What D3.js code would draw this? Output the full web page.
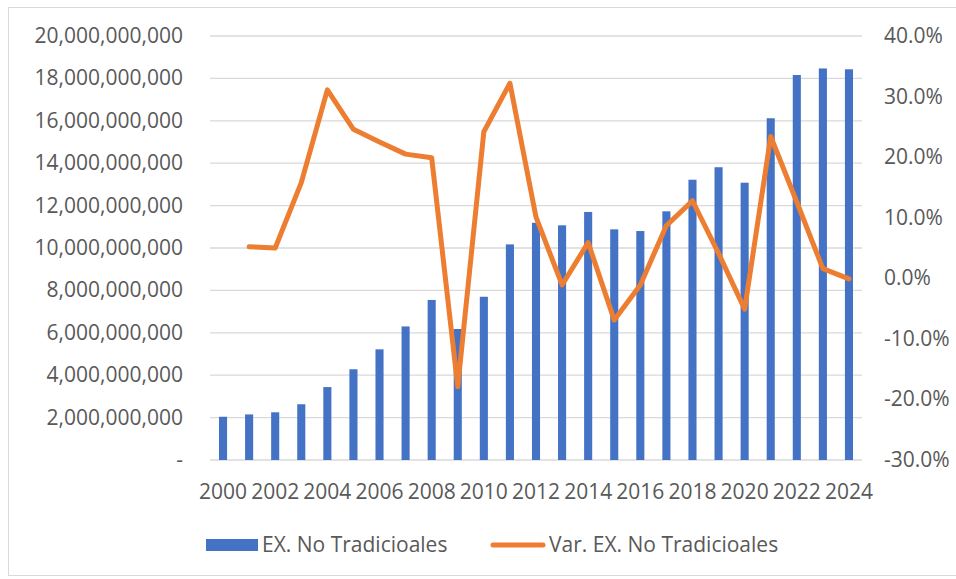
<!DOCTYPE html>
<html>
<head>
<meta charset="utf-8">
<script src="https://cdn.jsdelivr.net/npm/d3@7/dist/d3.min.js"></script>
<style>
body { margin: 0; background: #fff; }
text { font-family: "Open Sans", Calibri, sans-serif; fill: #595959; }
</style>
</head>
<body>
<div id="chart"></div>
<script>
var years = d3.range(2000, 2025)
var exportValues = [2.04e9, 2.15e9, 2.25e9, 2.63e9, 3.44e9, 4.28e9, 5.22e9, 6.30e9, 7.55e9, 6.18e9,
    7.70e9, 10.17e9, 11.19e9, 11.07e9, 11.70e9, 10.88e9, 10.80e9, 11.73e9, 13.22e9, 13.81e9,
    13.08e9, 16.12e9, 18.16e9, 18.47e9, 18.43e9]
// variation starts in 2001
var growth = [null, 5.2, 5.0, 15.8, 31.1, 24.6, 22.5, 20.5, 19.9, -17.9,
    24.2, 32.2, 10.1, -1.1, 5.9, -6.9, -1.1, 8.7, 12.8, 4.1,
    -5.1, 23.4, 12.6, 1.6, -0.1]
var leftTicks = d3.range(0, 20e9 + 1, 2e9)
var rightTicks = [-30, -20, -10, 0, 10, 20, 30, 40]
var yearLabels = years.filter(function(d){ return d % 2 == 0 })

var width = 956, height = 579
var plotLeft = 210, plotRight = 862, plotTop = 36, plotBottom = 460
var fs = 21

var svg = d3.select("#chart").append("svg")
    .attr('width', width).attr('height', height)

svg.append("rect").attr("x", 8.5).attr("y", 7.5)
    .attr("width", 960).attr("height", 568)
    .attr("fill", "none").attr("stroke", "#d9d9d9")

var x = d3.scaleBand().domain(years).range([plotLeft, plotRight]).paddingInner(0.69).paddingOuter(0.345)
var y = d3.scaleLinear().domain([0, 20e9]).range([plotBottom, plotTop])
var y2 = d3.scaleLinear().domain([-30, 40]).range([plotBottom, plotTop])

// gridlines
svg.append("g").selectAll("line").data(leftTicks).join("line")
    .attr("x1", plotLeft).attr("x2", plotRight)
    .attr("y1", function(d){ return y(d) }).attr("y2", function(d){ return y(d) })
    .attr("stroke", "#d9d9d9").attr("stroke-width", 1.3)

// left axis labels
var fmt = d3.format(",")
svg.append("g").selectAll("text").data(leftTicks).join("text")
    .attr("x", 183).attr("y", function(d){ return y(d) + 7 })
    .attr("text-anchor", "end").attr("font-size", fs)
    .text(function(d){ return d == 0 ? "-" : fmt(d) })

// right axis labels (plain hyphen like Excel)
svg.append("g").selectAll("text").data(rightTicks).join("text")
    .attr("x", 884).attr("y", function(d){ return y2(d) + 7 })
    .attr("font-size", fs)
    .text(function(d){ return d.toFixed(1) + "%" })

// x labels
svg.append("g").selectAll("text").data(yearLabels).join("text")
    .attr("x", function(d){ return x(d) + x.bandwidth() / 2 }).attr("y", 499)
    .attr("text-anchor", "middle").attr("font-size", fs)
    .text(function(d){ return d })

// bars
svg.append("g").selectAll("rect").data(years).join("rect")
    .attr("x", function(d){ return x(d) }).attr("width", x.bandwidth())
    .attr("y", function(d, i){ return y(exportValues[i]) })
    .attr("height", function(d, i){ return plotBottom - y(exportValues[i]) })
    .attr("fill", "#4472c4")

// line
var line = d3.line()
    .defined(function(d){ return d[1] != null })
    .x(function(d){ return x(d[0]) + x.bandwidth() / 2 })
    .y(function(d){ return y2(d[1]) })
svg.append("path").datum(years.map(function(d, i){ return [d, growth[i]] }))
    .attr("d", line).attr("fill", "none")
    .attr("stroke", "#ed7d31").attr("stroke-width", 5)
    .attr("stroke-linejoin", "round").attr("stroke-linecap", "round")

// legend
var lg = svg.append("g")
lg.append("rect").attr("x", 206).attr("y", 539).attr("width", 52).attr("height", 12).attr("fill", "#4472c4")
lg.append("text").attr("x", 262).attr("y", 552).attr("font-size", fs).text("EX. No Tradicioales")
lg.append("line").attr("x1", 493).attr("x2", 543).attr("y1", 545).attr("y2", 545)
    .attr("stroke", "#ed7d31").attr("stroke-width", 5).attr("stroke-linecap", "round")
lg.append("text").attr("x", 549).attr("y", 552).attr("font-size", fs).text("Var. EX. No Tradicioales")
</script>
</body>
</html>
